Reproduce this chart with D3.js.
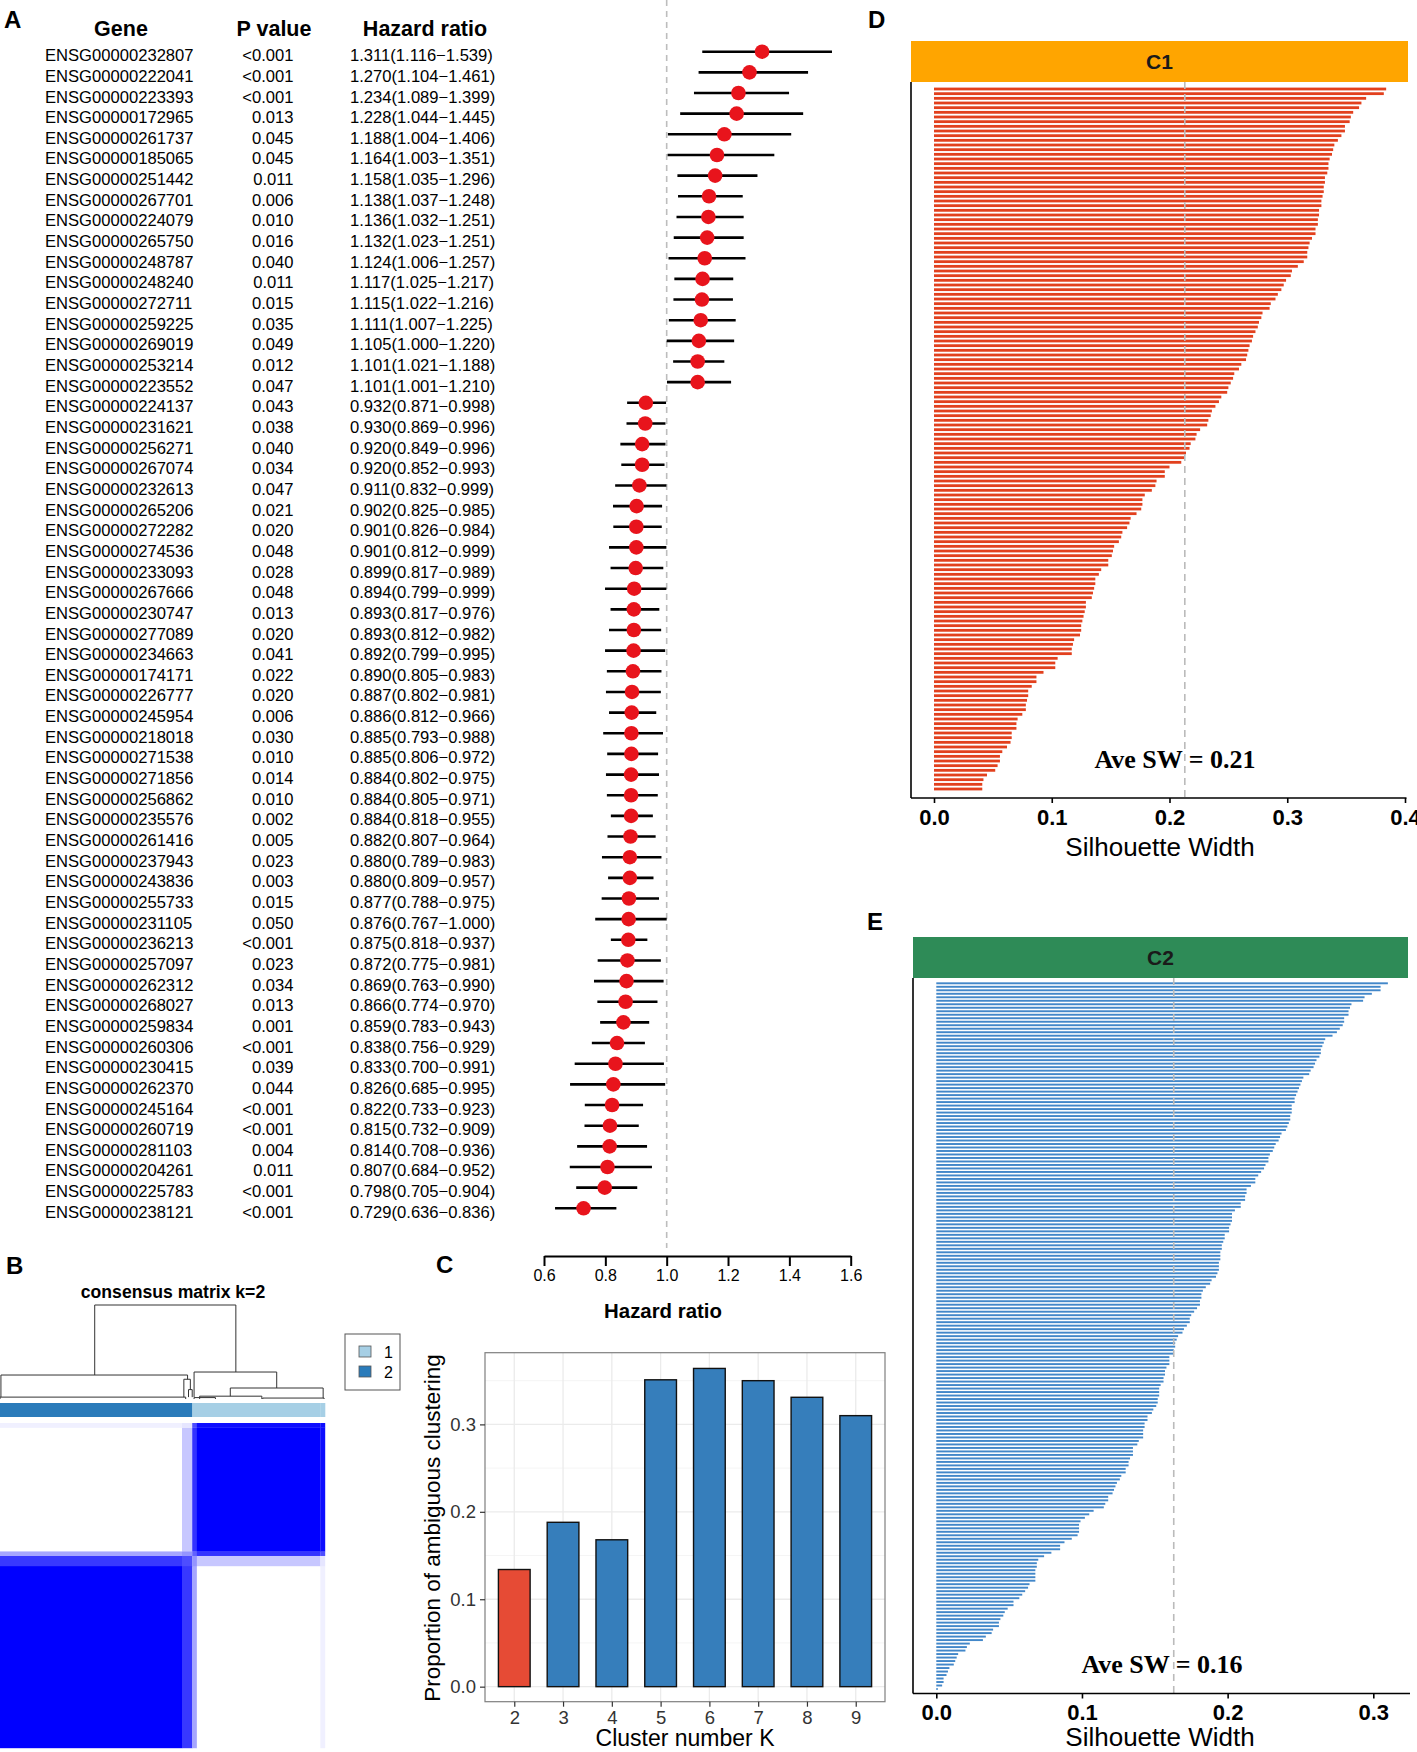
<!DOCTYPE html>
<html>
<head>
<meta charset="utf-8">
<title>Prognostic genes, consensus clustering and silhouette</title>
<script src="https://cdn.jsdelivr.net/npm/d3@7"></script>
<style>
  body { margin: 0; background: #fff; }
  svg { display: block; font-family: "Liberation Sans", Arial, sans-serif; }
</style>
</head>
<body>
<svg width="1417" height="1752"></svg>
<script>
// ---- A: univariate cox table / forest ----
const genes = ["ENSG00000232807","ENSG00000222041","ENSG00000223393","ENSG00000172965","ENSG00000261737","ENSG00000185065","ENSG00000251442","ENSG00000267701","ENSG00000224079","ENSG00000265750","ENSG00000248787","ENSG00000248240","ENSG00000272711","ENSG00000259225","ENSG00000269019","ENSG00000253214","ENSG00000223552","ENSG00000224137","ENSG00000231621","ENSG00000256271","ENSG00000267074","ENSG00000232613","ENSG00000265206","ENSG00000272282","ENSG00000274536","ENSG00000233093","ENSG00000267666","ENSG00000230747","ENSG00000277089","ENSG00000234663","ENSG00000174171","ENSG00000226777","ENSG00000245954","ENSG00000218018","ENSG00000271538","ENSG00000271856","ENSG00000256862","ENSG00000235576","ENSG00000261416","ENSG00000237943","ENSG00000243836","ENSG00000255733","ENSG00000231105","ENSG00000236213","ENSG00000257097","ENSG00000262312","ENSG00000268027","ENSG00000259834","ENSG00000260306","ENSG00000230415","ENSG00000262370","ENSG00000245164","ENSG00000260719","ENSG00000281103","ENSG00000204261","ENSG00000225783","ENSG00000238121"]
const pValues = ["<0.001","<0.001","<0.001","0.013","0.045","0.045","0.011","0.006","0.010","0.016","0.040","0.011","0.015","0.035","0.049","0.012","0.047","0.043","0.038","0.040","0.034","0.047","0.021","0.020","0.048","0.028","0.048","0.013","0.020","0.041","0.022","0.020","0.006","0.030","0.010","0.014","0.010","0.002","0.005","0.023","0.003","0.015","0.050","<0.001","0.023","0.034","0.013","0.001","<0.001","0.039","0.044","<0.001","<0.001","0.004","0.011","<0.001","<0.001"]
const hazard = [1.311,1.270,1.234,1.228,1.188,1.164,1.158,1.138,1.136,1.132,1.124,1.117,1.115,1.111,1.105,1.101,1.101,0.932,0.930,0.920,0.920,0.911,0.902,0.901,0.901,0.899,0.894,0.893,0.893,0.892,0.890,0.887,0.886,0.885,0.885,0.884,0.884,0.884,0.882,0.880,0.880,0.877,0.876,0.875,0.872,0.869,0.866,0.859,0.838,0.833,0.826,0.822,0.815,0.814,0.807,0.798,0.729]
const hrLower = [1.116,1.104,1.089,1.044,1.004,1.003,1.035,1.037,1.032,1.023,1.006,1.025,1.022,1.007,1.000,1.021,1.001,0.871,0.869,0.849,0.852,0.832,0.825,0.826,0.812,0.817,0.799,0.817,0.812,0.799,0.805,0.802,0.812,0.793,0.806,0.802,0.805,0.818,0.807,0.789,0.809,0.788,0.767,0.818,0.775,0.763,0.774,0.783,0.756,0.700,0.685,0.733,0.732,0.708,0.684,0.705,0.636]
const hrUpper = [1.539,1.461,1.399,1.445,1.406,1.351,1.296,1.248,1.251,1.251,1.257,1.217,1.216,1.225,1.220,1.188,1.210,0.998,0.996,0.996,0.993,0.999,0.985,0.984,0.999,0.989,0.999,0.976,0.982,0.995,0.983,0.981,0.966,0.988,0.972,0.975,0.971,0.955,0.964,0.983,0.957,0.975,1.000,0.937,0.981,0.990,0.970,0.943,0.929,0.991,0.995,0.923,0.909,0.936,0.952,0.904,0.836]
const hrTicks = [0.6, 0.8, 1.0, 1.2, 1.4, 1.6]

// ---- B: consensus matrix k=2 ----
// sample segments in column order (left to right)
const segSizes = [196, 11, 5, 133, 5]
const segCluster = ["2", "2", "1", "1", "1"]
// mean consensus between segments
const segConsensus = [
  [1.00, 0.78, 0.35, 0.00, 0.06],
  [0.78, 0.70, 0.42, 0.22, 0.10],
  [0.35, 0.42, 0.62, 0.80, 0.70],
  [0.00, 0.22, 0.80, 1.00, 0.95],
  [0.06, 0.10, 0.70, 0.95, 0.95]
]
// dendrogram merges: [left x, right x, height, left child height, right child height] (x in sample index)
const dendroMerges = [
  [102, 254, 1.00, 0.255, 0.287],
  [1, 202, 0.255, 0.02, 0.21],
  [198, 205, 0.21, 0.02, 0.10],
  [203, 207, 0.10, 0.02, 0.02],
  [209, 298, 0.287, 0.02, 0.117],
  [248, 348, 0.117, 0.03, 0.01],
  [0, 200, 0.02, 0, 0],
  [209, 232, 0.015, 0, 0],
  [215, 282, 0.03, 0, 0],
  [283, 349, 0.01, 0, 0]
]
const clusterLabels = ["1", "2"]

// ---- C: proportion of ambiguous clustering ----
const kValues = ["2", "3", "4", "5", "6", "7", "8", "9"]
const ambiguous = [0.134, 0.188, 0.168, 0.351, 0.364, 0.350, 0.331, 0.310]

// ---- D / E: silhouette widths ----
const swC1 = [0.384,0.382,0.367,0.363,0.361,0.356,0.354,0.353,0.349,0.349,
  0.346,0.343,0.340,0.339,0.338,0.336,0.335,0.335,0.334,0.332,
  0.332,0.331,0.331,0.330,0.329,0.329,0.327,0.327,0.326,0.326,
  0.324,0.324,0.321,0.319,0.318,0.317,0.317,0.314,0.309,0.304,
  0.303,0.299,0.297,0.295,0.292,0.290,0.286,0.285,0.279,0.278,
  0.276,0.275,0.273,0.271,0.270,0.268,0.267,0.266,0.265,0.261,
  0.259,0.255,0.254,0.252,0.250,0.249,0.244,0.242,0.239,0.236,
  0.235,0.233,0.232,0.226,0.223,0.222,
  0.218,0.217,0.214,0.213,0.210,0.200,0.196,0.196,0.189,0.188,
  0.185,0.179,0.177,0.177,0.176,0.172,0.167,0.166,0.164,0.160,
  0.159,0.157,0.153,0.152,0.151,0.148,0.148,0.142,0.140,0.137,
  0.137,0.136,0.135,0.134,0.129,0.129,0.128,0.127,0.126,0.125,
  0.125,0.124,0.119,0.118,0.117,0.117,0.105,0.103,0.103,0.093,
  0.087,0.087,0.083,0.080,0.080,0.079,0.078,0.078,0.075,0.071,
  0.070,0.070,0.066,0.066,0.065,0.062,0.058,0.056,0.056,0.054,
  0.052,0.045,0.042,0.041,0.041]
const swC2 = [0.310,0.305,0.305,0.299,0.294,0.293,0.285,0.284,0.283,0.283,
  0.280,0.280,0.279,0.277,0.275,0.272,0.267,0.266,0.265,0.264,
  0.264,0.263,0.261,0.260,0.259,0.257,0.256,0.252,0.251,0.250,
  0.249,0.248,0.247,0.246,0.246,0.244,0.244,0.244,0.243,0.243,
  0.242,0.241,0.240,0.237,0.236,0.235,0.233,0.232,0.231,0.229,
  0.228,0.228,0.226,0.225,0.223,0.221,0.219,0.219,0.216,0.213,
  0.213,0.212,0.212,0.209,0.209,0.205,0.203,0.203,0.203,0.202,
  0.201,0.201,0.198,0.198,0.197,0.196,0.196,0.195,0.195,0.195,
  0.194,0.194,0.194,0.193,0.192,0.189,0.188,0.185,0.183,0.182,
  0.182,0.181,0.181,0.179,0.177,0.175,0.174,0.174,0.172,
  0.170,0.169,0.166,0.165,0.164,0.164,0.163,0.163,0.160,0.160,
  0.160,0.158,0.157,0.157,0.156,0.156,0.154,0.153,0.153,0.153,
  0.152,0.152,0.151,0.149,0.148,0.145,0.145,0.143,0.143,0.142,
  0.142,0.142,0.139,0.138,0.135,0.135,0.135,0.133,0.132,0.132,
  0.130,0.130,0.127,0.126,0.124,0.123,0.122,0.121,0.118,0.118,
  0.116,0.115,0.108,0.105,0.102,0.099,0.098,0.098,0.098,0.097,
  0.093,0.088,0.085,0.085,0.079,0.074,0.070,0.069,0.069,0.068,
  0.068,0.068,0.068,0.064,0.063,0.061,0.059,0.057,0.053,0.053,
  0.049,0.047,0.046,0.044,0.043,0.043,0.039,0.038,0.034,0.032,
  0.023,0.021,0.020,0.015,0.014,0.013,0.012,0.009,0.008,0.007,
  0.005,0.005,0.004,0.001]
const swAverage = [0.213, 0.163]
const swLabels = ["C1", "C2"]

const svg = d3.select("svg")
svg.append("rect").attr("width", 1417).attr("height", 1752).attr("fill", "#fff")

function panelLetter (txt, x, y) {
  svg.append("text").attr("x", x).attr("y", y)
    .attr("font-size", 24).attr("font-weight", "bold").text(txt)
}

// ================= A =================
const xHR = d3.scaleLinear().domain([0.6, 1.6]).range([544, 850.7])
const yRow = d3.scalePoint().domain(d3.range(genes.length)).range([51.7, 1208.3])
const gA = svg.append("g")

panelLetter("A", 4, 28)
const headers = [["Gene", 121], ["P value", 274], ["Hazard ratio", 425]]
gA.selectAll(".hdr").data(headers).join("text")
  .attr("class", "hdr")
  .attr("x", d => d[1]).attr("y", 36)
  .attr("text-anchor", "middle").attr("font-size", 21.5).attr("font-weight", "bold")
  .text(d => d[0])

const fmt3 = d3.format(".3f")
const rows = gA.selectAll(".row").data(genes).join("g").attr("class", "row")
  .attr("transform", (d, i) => `translate(0,${yRow(i) + 9.5})`)
  .attr("font-size", 16.6)
rows.append("text").attr("x", 45).text(d => d)
rows.append("text").attr("x", 293.5).attr("text-anchor", "end").text((d, i) => pValues[i])
rows.append("text").attr("x", 350)
  .text((d, i) => `${fmt3(hazard[i])}(${fmt3(hrLower[i])}\u2212${fmt3(hrUpper[i])})`)

// reference line at HR = 1
gA.append("line")
  .attr("x1", xHR(1)).attr("x2", xHR(1)).attr("y1", 0).attr("y2", 1248)
  .attr("stroke", "#bdbdbd").attr("stroke-width", 1.6).attr("stroke-dasharray", "6,5")

gA.selectAll(".ci").data(genes).join("line").attr("class", "ci")
  .attr("x1", (d, i) => xHR(hrLower[i])).attr("x2", (d, i) => xHR(hrUpper[i]))
  .attr("y1", (d, i) => yRow(i)).attr("y2", (d, i) => yRow(i))
  .attr("stroke", "#000").attr("stroke-width", 2.6)
gA.selectAll(".pt").data(genes).join("circle").attr("class", "pt")
  .attr("cx", (d, i) => xHR(hazard[i])).attr("cy", (d, i) => yRow(i))
  .attr("r", 7.3).attr("fill", "#e8141c")

const axA = gA.append("g").attr("transform", "translate(0,1256)")
  .call(d3.axisBottom(xHR).tickValues(hrTicks).tickFormat(d3.format(".1f")).tickSize(10).tickSizeOuter(0).tickPadding(4))
axA.select(".domain").attr("stroke-width", 2)
axA.selectAll(".tick line").attr("stroke-width", 2)
axA.selectAll("text").attr("font-size", 16).attr("font-family", "Liberation Sans, Arial")
gA.append("text").attr("x", 663).attr("y", 1318).attr("text-anchor", "middle")
  .attr("font-size", 20.4).attr("font-weight", "bold").text("Hazard ratio")

// ================= B =================
panelLetter("B", 6, 1274)
const gB = svg.append("g")
const nSamples = d3.sum(segSizes)
const segStart = segSizes.map((s, i) => d3.sum(segSizes.slice(0, i)))
const xS = d3.scaleLinear().domain([0, nSamples]).range([0, 325])
const yS = d3.scaleLinear().domain([nSamples, 0]).range([1423, 1748])
const consColor = d3.scaleLinear().domain([0, 1]).range(["#ffffff", "#0000ff"])
const clusterColor = d3.scaleOrdinal().domain(clusterLabels).range(["#a6cfe5", "#2a7bba"])

gB.append("text").attr("x", 173).attr("y", 1298).attr("text-anchor", "middle")
  .attr("font-size", 17.6).attr("font-weight", "bold").text("consensus matrix k=2")

const yD = d3.scaleLinear().domain([0, 1]).range([1399, 1305])
gB.selectAll(".dendro").data(dendroMerges).join("path").attr("class", "dendro")
  .attr("d", d => `M${xS(d[0])},${yD(d[3])}V${yD(d[2])}H${xS(d[1])}V${yD(d[4])}`)
  .attr("fill", "none").attr("stroke", "#333").attr("stroke-width", 1)

gB.selectAll(".clbar").data(segSizes).join("rect").attr("class", "clbar")
  .attr("x", (d, i) => xS(segStart[i])).attr("width", d => xS(d) - xS(0) + 0.3)
  .attr("y", 1403).attr("height", 14)
  .attr("fill", (d, i) => clusterColor(segCluster[i]))

const cells = []
segSizes.forEach((si, i) => segSizes.forEach((sj, j) => cells.push({ r: i, c: j, v: segConsensus[i][j] })))
gB.selectAll(".cell").data(cells).join("rect").attr("class", "cell")
  .attr("x", d => xS(segStart[d.c])).attr("width", d => xS(segSizes[d.c]) - xS(0) + 0.2)
  .attr("y", d => yS(segStart[d.r] + segSizes[d.r])).attr("height", d => yS(segStart[d.r]) - yS(segStart[d.r] + segSizes[d.r]) + 0.2)
  .attr("fill", d => consColor(d.v))

const leg = gB.append("g")
leg.append("rect").attr("x", 345).attr("y", 1334).attr("width", 55).attr("height", 56)
  .attr("fill", "#fff").attr("stroke", "#555").attr("stroke-width", 1)
leg.selectAll(".lk").data(clusterLabels).join("rect").attr("class", "lk")
  .attr("x", 359).attr("y", (d, i) => 1346 + i * 20).attr("width", 12).attr("height", 11)
  .attr("fill", d => clusterColor(d)).attr("stroke", "#555").attr("stroke-width", 0.8)
leg.selectAll(".lt").data(clusterLabels).join("text").attr("class", "lt")
  .attr("x", 384).attr("y", (d, i) => 1358 + i * 20).attr("font-size", 16).text(d => d)

// ================= C =================
panelLetter("C", 436, 1273)
const gC = svg.append("g")
const pl = { l: 485, r: 885, t: 1352.7, b: 1701.7 }
const xK = d3.scalePoint().domain(kValues).range([pl.l, pl.r]).padding(0.6)
const yA = d3.scaleLinear().domain([-0.0172, 0.382]).range([pl.b, pl.t])
gC.selectAll(".gmin").data([0.05, 0.15, 0.25, 0.35]).join("line").attr("class", "gmin")
  .attr("x1", pl.l).attr("x2", pl.r).attr("y1", d => yA(d)).attr("y2", d => yA(d))
  .attr("stroke", "#f3f3f3").attr("stroke-width", 0.8)
gC.selectAll(".gmaj").data([0, 0.1, 0.2, 0.3]).join("line").attr("class", "gmaj")
  .attr("x1", pl.l).attr("x2", pl.r).attr("y1", d => yA(d)).attr("y2", d => yA(d))
  .attr("stroke", "#ebebeb").attr("stroke-width", 1.3)
gC.selectAll(".gv").data(kValues).join("line").attr("class", "gv")
  .attr("x1", d => xK(d)).attr("x2", d => xK(d)).attr("y1", pl.t).attr("y2", pl.b)
  .attr("stroke", "#ebebeb").attr("stroke-width", 1.3)
const bw = xK.step() * 0.65
gC.selectAll(".bar").data(kValues).join("rect").attr("class", "bar")
  .attr("x", d => xK(d) - bw / 2).attr("width", bw)
  .attr("y", (d, i) => yA(ambiguous[i])).attr("height", (d, i) => yA(0) - yA(ambiguous[i]))
  .attr("fill", (d, i) => i === 0 ? "#e64b35" : "#367ebb")
  .attr("stroke", "#111").attr("stroke-width", 1.4)
gC.append("rect").attr("x", pl.l).attr("y", pl.t).attr("width", pl.r - pl.l).attr("height", pl.b - pl.t)
  .attr("fill", "none").attr("stroke", "#7f7f7f").attr("stroke-width", 1.2)
const axCy = gC.append("g").attr("transform", `translate(${pl.l},0)`)
  .call(d3.axisLeft(yA).tickValues([0, 0.1, 0.2, 0.3]).tickFormat(d3.format(".1f")).tickSize(5).tickPadding(4))
const axCx = gC.append("g").attr("transform", `translate(0,${pl.b})`)
  .call(d3.axisBottom(xK).tickSize(5).tickPadding(4))
;[axCy, axCx].forEach(a => {
  a.select(".domain").remove()
  a.selectAll(".tick line").attr("stroke", "#333").attr("stroke-width", 1.2)
  a.selectAll("text").attr("font-size", 18.5).attr("fill", "#333").attr("font-family", "Liberation Sans, Arial")
})
gC.append("text").attr("transform", "translate(440,1528) rotate(-90)").attr("text-anchor", "middle")
  .attr("font-size", 22.5).text("Proportion of ambiguous clustering")
gC.append("text").attr("x", 685).attr("y", 1746).attr("text-anchor", "middle")
  .attr("font-size", 23).text("Cluster number K")

// ================= D / E =================
function drawSilhouette (vals, cfg) {
  const g = svg.append("g")
  const x = d3.scaleLinear().domain([0, cfg.tickMax]).range([cfg.x0, cfg.xMax])
  const y = d3.scalePoint().domain(d3.range(vals.length)).range([cfg.firstBar, cfg.lastBar])
  const thick = y.step() * cfg.fill

  g.append("rect").attr("x", cfg.left).attr("y", cfg.stripTop)
    .attr("width", cfg.stripRight - cfg.left).attr("height", cfg.stripBottom - cfg.stripTop)
    .attr("fill", cfg.stripColor)
  g.append("text").attr("x", (cfg.left + cfg.stripRight) / 2).attr("y", (cfg.stripTop + cfg.stripBottom) / 2 + 7.5)
    .attr("text-anchor", "middle").attr("font-size", 21).attr("font-weight", "bold").attr("fill", "#1a1a1a")
    .text(cfg.label)

  g.selectAll(".sw").data(vals).join("rect").attr("class", "sw")
    .attr("x", x(0)).attr("width", d => x(d) - x(0))
    .attr("y", (d, i) => y(i) - thick / 2).attr("height", thick)
    .attr("fill", cfg.color)

  g.append("line").attr("x1", x(cfg.ave)).attr("x2", x(cfg.ave))
    .attr("y1", cfg.stripBottom).attr("y2", cfg.axisY)
    .attr("stroke", "#bbbbbb").attr("stroke-width", 1.6).attr("stroke-dasharray", "7,5")

  g.append("line").attr("x1", cfg.left).attr("x2", cfg.left).attr("y1", cfg.stripBottom).attr("y2", cfg.axisY)
    .attr("stroke", "#000").attr("stroke-width", 1.6)
  g.append("line").attr("x1", cfg.left).attr("x2", cfg.axisRight).attr("y1", cfg.axisY).attr("y2", cfg.axisY)
    .attr("stroke", "#000").attr("stroke-width", 1.6)
  const ax = g.append("g").attr("transform", `translate(0,${cfg.axisY})`)
    .call(d3.axisBottom(x).ticks(Math.round(cfg.tickMax * 10)).tickFormat(d3.format(".1f")).tickSize(5).tickSizeOuter(0).tickPadding(6))
  ax.select(".domain").remove()
  ax.selectAll(".tick line").attr("stroke", "#000").attr("stroke-width", 1.6)
  ax.selectAll("text").attr("font-size", 22).attr("font-weight", "bold").attr("fill", "#000")
    .attr("font-family", "Liberation Sans, Arial")

  g.append("text").attr("x", cfg.aveX).attr("y", cfg.aveY).attr("text-anchor", "middle")
    .attr("font-family", "Liberation Serif, Times New Roman, serif").attr("font-weight", "bold")
    .attr("font-size", 26).text(`Ave SW = ${cfg.ave.toFixed(2)}`)
  g.append("text").attr("x", cfg.titleX).attr("y", cfg.titleY).attr("text-anchor", "middle")
    .attr("font-size", 26).text("Silhouette Width")
}

panelLetter("D", 868, 28)
drawSilhouette(swC1, {
  label: swLabels[0], ave: swAverage[0], color: "#e2401d", stripColor: "#ffa500",
  left: 911, stripRight: 1408, stripTop: 41, stripBottom: 82, axisY: 798, axisRight: 1406.5,
  x0: 934, xMax: 1405, tickMax: 0.4, firstBar: 89, lastBar: 789, fill: 0.6,
  aveX: 1175, aveY: 768, titleX: 1160, titleY: 856
})

panelLetter("E", 867, 930)
drawSilhouette(swC2, {
  label: swLabels[1], ave: swAverage[1], color: "#4287c9", stripColor: "#2e8b57",
  left: 913, stripRight: 1408, stripTop: 937, stripBottom: 978, axisY: 1693.5, axisRight: 1410,
  x0: 936.3, xMax: 1373.3, tickMax: 0.3, firstBar: 983.3, lastBar: 1689, fill: 0.55,
  aveX: 1162, aveY: 1673, titleX: 1160, titleY: 1746
})
</script>
</body>
</html>
